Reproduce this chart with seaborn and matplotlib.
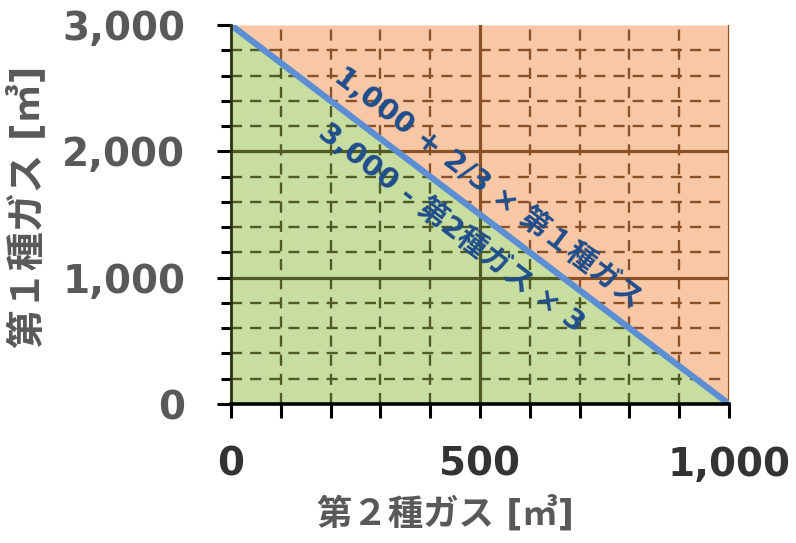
import numpy as np
import pandas as pd
import matplotlib
matplotlib.use("Agg")
import matplotlib.pyplot as plt
from matplotlib.ticker import MultipleLocator, FuncFormatter
import seaborn as sns

# data
gas2 = [0, 1000]          # 第2種ガス [m3]
gas1 = [3000, 0]          # 第1種ガス [m3]
label_upper = "1,000 + 2/3 × 第１種ガス"
label_lower = "3,000 - 第2種ガス × 3"
xlabel = "第２種ガス [㎥]"
ylabel = "第１種ガス [㎥]"

sns.set_theme(style="white")
plt.rcParams['font.family'] = ['DejaVu Sans', 'Noto Sans CJK JP']

fig = plt.figure(figsize=(7.96, 5.43), dpi=100)
ax = fig.add_axes([231/796, 1-404/543, (729-231)/796, (404-25)/543])

df = pd.DataFrame({"x": gas2, "y": gas1})
green = ax.fill_between(df["x"], df["y"], 0, color="#c8dda0", zorder=0, lw=0)
orange = ax.fill_between(df["x"], df["y"], 3000, color="#f8c8a6", zorder=0, lw=0)

ax.set_xlim(0, 1000)
ax.set_ylim(0, 3000)

ax.xaxis.set_major_locator(MultipleLocator(500))
ax.xaxis.set_minor_locator(MultipleLocator(100))
ax.yaxis.set_major_locator(MultipleLocator(1000))
ax.yaxis.set_minor_locator(MultipleLocator(200))

# grid drawn per region (brown over orange, olive over green)
xmin_minor = [v for v in range(100, 1000, 100) if v % 500]
ymin_minor = [v for v in range(200, 3000, 200) if v % 1000]
xmaj = [0, 500, 1000]
ymaj = [0, 1000, 2000, 3000]
for poly, gcol in [(orange, "#8a5028"), (green, "#4f5a26")]:
    path = poly.get_paths()[0]
    tr = poly.get_transform()
    lines = []
    for v in xmin_minor:
        lines.append(ax.axvline(v, color=gcol, lw=1.7, ls=(0, (4.7, 3.4)), zorder=1))
    for v in ymin_minor:
        lines.append(ax.axhline(v, color=gcol, lw=1.7, ls=(0, (4.7, 3.4)), zorder=1))
    for v in xmaj[1:]:
        lines.append(ax.axvline(v, color=gcol, lw=2.3, zorder=1))
    for v in ymaj[1:-1]:
        lines.append(ax.axhline(v, color=gcol, lw=2.3, zorder=1))
    for ln in lines:
        ln.set_clip_path(path, tr)

sns.lineplot(data=df, x="x", y="y", ax=ax, color="#5b8ed2", lw=4.5, zorder=3,
             solid_capstyle="round")

fmt = FuncFormatter(lambda v, p: f"{int(v):,}")
ax.xaxis.set_major_formatter(fmt)
ax.yaxis.set_major_formatter(fmt)

for s in ["top", "right"]:
    ax.spines[s].set_visible(False)
ax.spines["left"].set_color("#2a3010")
ax.spines["left"].set_linewidth(2.0)
ax.spines["bottom"].set_color("black")
ax.spines["bottom"].set_linewidth(2.6)
ax.spines["left"].set_zorder(4)
ax.spines["bottom"].set_zorder(4)

ax.tick_params(axis="x", which="both", direction="out", length=10, width=2.2,
               color="black", bottom=True)
ax.tick_params(axis="x", which="major", pad=20, labelsize=28, labelcolor="#333333")
ax.tick_params(axis="y", which="major", direction="out", length=10, width=2.2,
               color="black", left=True, pad=23, labelsize=28, labelcolor="#595959")
ax.tick_params(axis="y", which="minor", direction="out", length=7.5, width=2.2,
               color="black", left=True)
for lab in ax.get_xticklabels() + ax.get_yticklabels():
    lab.set_fontweight("bold")

ax.set_xlabel(xlabel, fontsize=25.5, fontweight="bold", color="#595959")
ax.xaxis.set_label_coords((445-231)/498, (404-513)/379)
ax.set_ylabel(ylabel, fontsize=28, fontweight="bold", color="#595959")
ax.yaxis.set_label_coords((27-231)/498, (404-207)/379)
ax.xaxis.label.set_va("center")
ax.yaxis.label.set_va("center")

# rotation along line
p0 = ax.transData.transform((0, 3000))
p1 = ax.transData.transform((1000, 0))
d = p1 - p0
ang = np.degrees(np.arctan2(d[1], d[0]))
n = np.array([-d[1], d[0]]) / np.hypot(*d)   # normal pointing up-right
for txt, t, off in [(label_upper, 0.484, 27), (label_lower, 0.476, -28)]:
    xy = (gas2[0] + t * (gas2[1] - gas2[0]), gas1[0] + t * (gas1[1] - gas1[0]))
    ax.annotate(txt, xy=xy, xytext=(n[0] * off, n[1] * off), textcoords="offset pixels",
                rotation=ang, rotation_mode="anchor", ha="center", va="center",
                fontsize=21, fontweight="bold", color="#1f4e8c", zorder=5)

fig.savefig("out.png", dpi=100)
